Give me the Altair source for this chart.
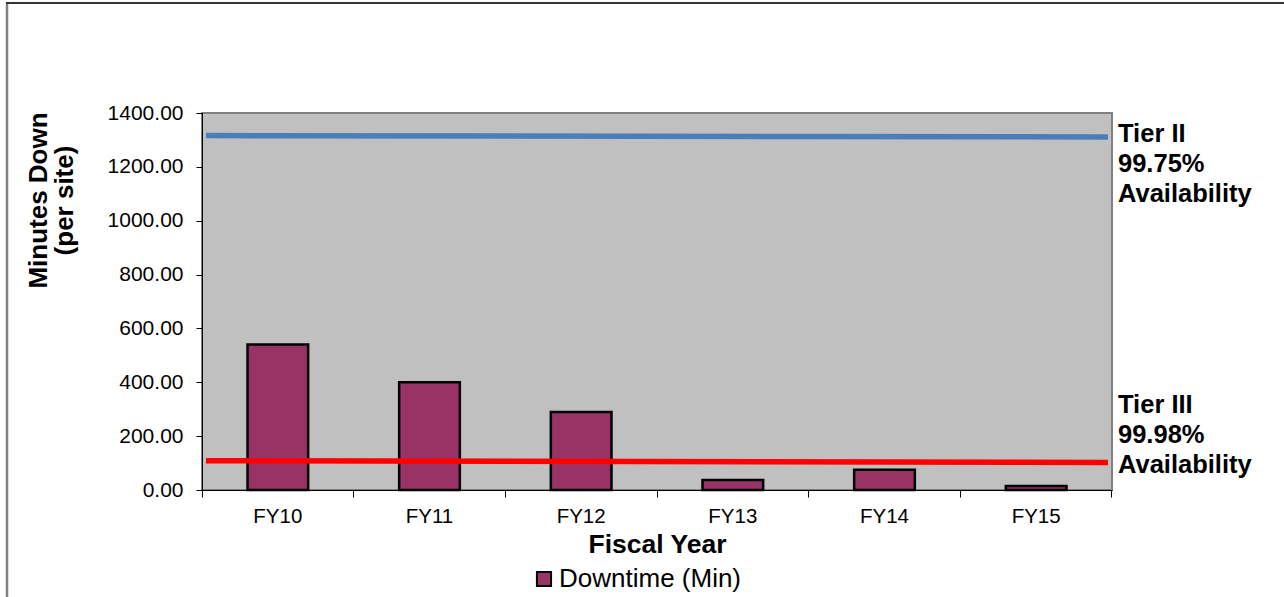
import altair as alt
import pandas as pd

years = ["FY10", "FY11", "FY12", "FY13", "FY14", "FY15"]
downtime = [540, 400, 290, 37, 75, 15]
series_name = "Downtime (Min)"

tier_labels = ["Tier II\n99.75%\nAvailability", "Tier III\n99.98%\nAvailability"]
tier_start = [1316, 109]
tier_end = [1311, 102]
tier_colors = ["#4A7EBB", "#FF0000"]

FONT = "Liberation Sans, Arial, sans-serif"
W, H = 910, 377

bars_df = pd.DataFrame({"year": years, "downtime": downtime, "series": [series_name] * len(years)})
tier_df = pd.DataFrame({"label": tier_labels, "start": tier_start, "end": tier_end, "color": tier_colors})

yscale = alt.Scale(domain=[0, 1400], nice=False, zero=True)

bars = alt.Chart(bars_df).mark_bar(
    width=alt.RelativeBandSize(0.4), stroke="black", strokeWidth=2.5
).encode(
    x=alt.X("year:N", sort=years, scale=alt.Scale(paddingInner=0, paddingOuter=0),
            axis=alt.Axis(title="Fiscal Year", labelAngle=0, bandPosition=1, tickExtra=True,
                          tickSize=7, tickColor="black", domainColor="black",
                          labelFont=FONT, labelFontSize=20.5, labelColor="black", labelPadding=9,
                          titleFont=FONT, titleFontSize=26.5, titleFontWeight="bold", titleColor="black",
                          titlePadding=5)),
    y=alt.Y("downtime:Q", scale=yscale,
            axis=alt.Axis(title=["Minutes Down", "(per site)"], values=list(range(0, 1401, 200)),
                          format=".2f", grid=False, tickSize=6, tickColor="black", domainColor="black",
                          labelFont=FONT, labelFontSize=21, labelColor="black", labelPadding=13,
                          titleFont=FONT, titleFontSize=26, titleFontWeight="bold", titleColor="black",
                          titleAngle=-90, titleAlign="center", titleBaseline="middle",
                          titleX=-164, titleY=87, titleLineHeight=26)),
    color=alt.Color("series:N", scale=alt.Scale(range=["#993366"]),
                    legend=alt.Legend(title=None, orient="none", legendX=329, legendY=453,
                                      symbolType="square", symbolSize=200, symbolStrokeColor="black",
                                      symbolStrokeWidth=2, labelFont=FONT, labelFontSize=26,
                                      labelColor="black", labelOffset=2, labelLimit=0)),
)

lines = alt.Chart(tier_df).mark_rule(strokeWidth=5.5).encode(
    x=alt.value(4), x2=alt.value(W - 4),
    y=alt.Y("start:Q", scale=yscale), y2="end:Q",
    color=alt.Color("color:N", scale=None, legend=None),
)

t2 = alt.Chart(tier_df.iloc[[0]]).mark_text(
    align="left", baseline="top", font=FONT, fontSize=25.5, fontWeight="bold",
    lineBreak="\n", lineHeight=30, dy=-14, color="black"
).encode(x=alt.value(W + 6), y=alt.Y("start:Q", scale=yscale), text="label:N")

t3 = alt.Chart(tier_df.iloc[[1]]).mark_text(
    align="left", baseline="top", font=FONT, fontSize=25.5, fontWeight="bold",
    lineBreak="\n", lineHeight=30, dy=-70, color="black"
).encode(x=alt.value(W + 6), y=alt.Y("end:Q", scale=yscale), text="label:N")

frame_df = pd.DataFrame({"k": [0]})
frame_left = alt.Chart(frame_df).mark_rule(color="#808080", strokeWidth=2.5).encode(
    x=alt.value(-195), y=alt.value(-111), y2=alt.value(500))
frame_top = alt.Chart(frame_df).mark_rule(color="#333333", strokeWidth=2).encode(
    x=alt.value(-196), x2=alt.value(1100), y=alt.value(-110))

chart = alt.layer(bars, lines, t2, t3, frame_left, frame_top).properties(
    width=W, height=H,
    padding={"left": 202, "top": 113, "right": 172, "bottom": 107},
    autosize=alt.AutoSizeParams(type="none"),
    background="white",
).configure_view(
    fill="#C0C0C0", stroke="#808080", strokeWidth=2
)

chart.save("out.html", embed_options={"renderer": "svg", "actions": False})
